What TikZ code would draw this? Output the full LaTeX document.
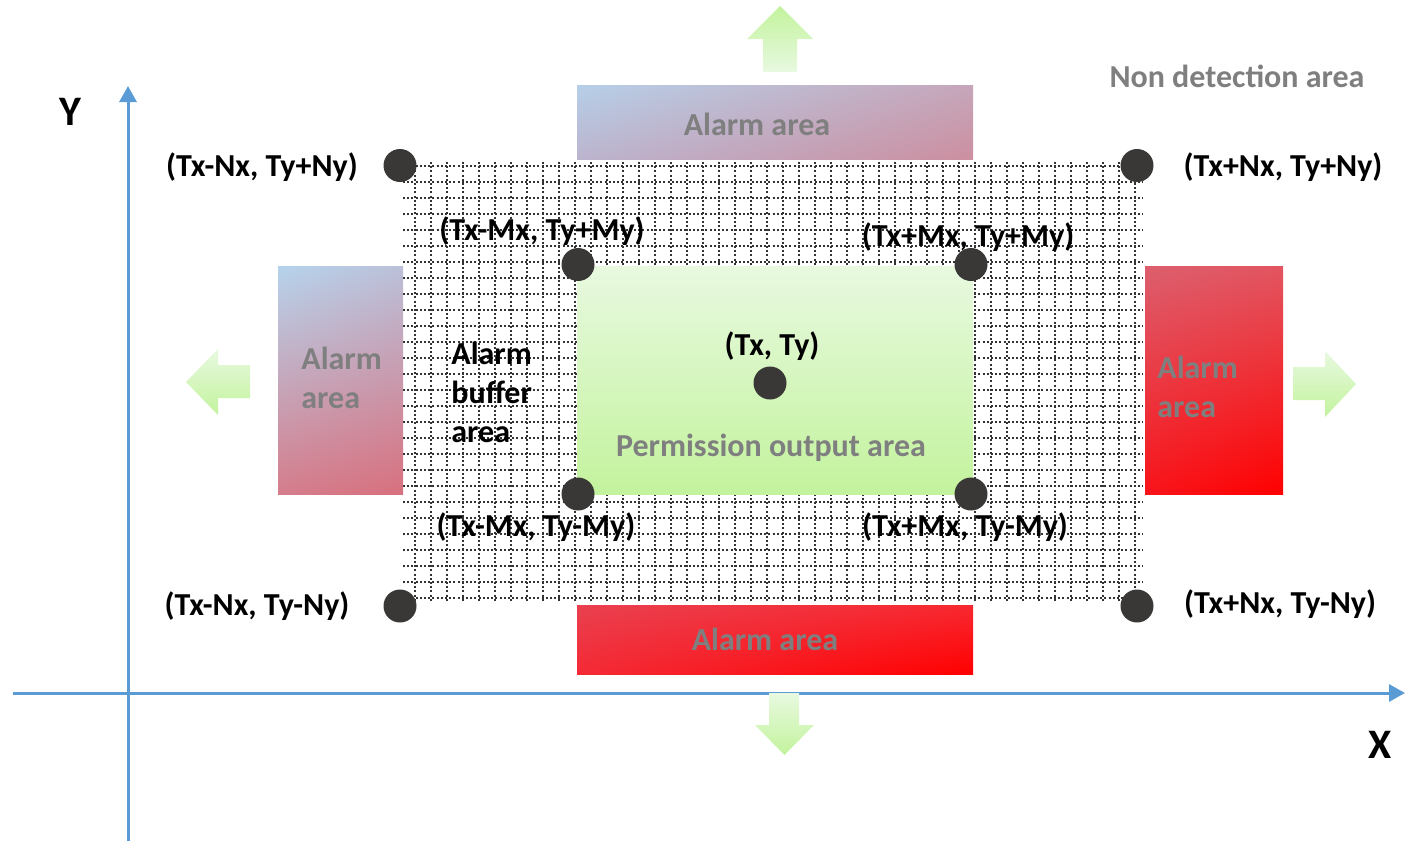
\documentclass[tikz,border=0pt]{standalone}
\usepackage{fontspec}
\setmainfont{Carlito}
\usetikzlibrary{arrows.meta,shadings}
\definecolor{axisblue}{HTML}{5B9BD5}
\definecolor{dotgray}{HTML}{3A3836}
\definecolor{gridgray}{HTML}{333333}
\definecolor{txtgray}{HTML}{7F7F7F}
\definecolor{glight}{HTML}{E8F9E0}
\definecolor{gdark}{HTML}{C3F39D}
\definecolor{tUL}{HTML}{B6CFE8}\definecolor{tUR}{HTML}{C6A6BA}\definecolor{tLL}{HTML}{BCB4CE}\definecolor{tLR}{HTML}{CC8FA0}
\definecolor{lUL}{HTML}{B6D3EC}\definecolor{lUR}{HTML}{BBC0D9}\definecolor{lLL}{HTML}{D47D8C}\definecolor{lLR}{HTML}{D8707E}
\definecolor{rUL}{HTML}{DC5F6E}\definecolor{rUR}{HTML}{E25560}\definecolor{rLL}{HTML}{F8141A}\definecolor{rLR}{HTML}{FF0000}
\definecolor{bUL}{HTML}{E94050}\definecolor{bUR}{HTML}{F82830}\definecolor{bLL}{HTML}{F42A35}\definecolor{bLR}{HTML}{FF0000}
\begin{document}
\begin{tikzpicture}[x=0.5pt,y=-0.5pt,
  font=\fontsize{16}{19.5}\selectfont\bfseries,
  lbl/.style={inner sep=0pt, text=black},
  graylbl/.style={inner sep=0pt, text=txtgray},
  dotnode/.style={circle, fill=dotgray, minimum size=16.5pt, inner sep=0pt},
  axis/.style={draw=axisblue, line width=1.5pt, -{Triangle[length=8pt,width=8.5pt]}},
  gridline/.style={draw=gridgray, line width=1pt, dash pattern=on 1pt off 1.1pt}
]
\useasboundingbox (0,0) rectangle (1406,841);

% alarm areas
\shade[upper left=tUL, upper right=tUR, lower left=tLL, lower right=tLR] (577,85) rectangle (973,159);
\shade[upper left=lUL, upper right=lUR, lower left=lLL, lower right=lLR] (278,266) rectangle (403,494);
\shade[upper left=rUL, upper right=rUR, lower left=rLL, lower right=rLR] (1145,266) rectangle (1283,494);
\shade[upper left=bUL, upper right=bUR, lower left=bLL, lower right=bLR] (577,605) rectangle (973,674);

% buffer grid
\foreach \k in {0,...,27} {
  \draw[gridline] (403,{165.7+16*\k}) -- (1143,{165.7+16*\k});
}
\foreach \k in {0,...,45} {
  \draw[gridline] ({415+16*\k},162) -- ({415+16*\k},602);
}

% permission output area
\shade[top color=glight, bottom color=gdark] (577,266) rectangle (973,494);

% axes
\coordinate (yb) at (128,841);
\coordinate (yt) at (128,86);
\coordinate (xl) at (13,693);
\coordinate (xr) at (1405,693);
\draw[axis] (yb) -- (yt);
\draw[axis] (xl) -- (xr);
\node[inner sep=0pt, font=\fontsize{21}{25}\selectfont\bfseries] (ylab) at (70,112) {Y};
\node[inner sep=0pt, font=\fontsize{21}{25}\selectfont\bfseries] (xlab) at (1380,745) {X};

% green block arrows
\shade[top color=gdark, bottom color=glight] (780,6) -- (813,39) -- (797,39) -- (797,72) -- (763,72) -- (763,39) -- (747,39) -- cycle;
\shade[top color=glight, bottom color=gdark] (186,382) -- (218,349) -- (218,365) -- (250,365) -- (250,398) -- (218,398) -- (218,415) -- cycle;
\shade[top color=glight, bottom color=gdark] (1293,367) -- (1325,367) -- (1325,351) -- (1356,384) -- (1325,417) -- (1325,400) -- (1293,400) -- cycle;
\shade[top color=glight, bottom color=gdark] (769,693) -- (799,693) -- (799,725) -- (814,725) -- (784.5,755) -- (755,725) -- (769,725) -- cycle;

% points
\node[dotnode] (nTL) at (400,165.5) {};
\node[dotnode] (nTR) at (1137,165.5) {};
\node[dotnode] (nBL) at (400,606) {};
\node[dotnode] (nBR) at (1137,606) {};
\node[dotnode] (mTL) at (578,264.5) {};
\node[dotnode] (mTR) at (971,264.5) {};
\node[dotnode] (mBL) at (578,494) {};
\node[dotnode] (mBR) at (971,494) {};
\node[dotnode] (ctr) at (770,383) {};

% labels
\node[lbl] (lnTL) at (262,167) {(Tx-Nx, Ty+Ny)};
\node[lbl] (lnTR) at (1283,167) {(Tx+Nx, Ty+Ny)};
\node[lbl] (lmTL) at (542,231) {(Tx-Mx, Ty+My)};
\node[lbl] (lmTR) at (968,237) {(Tx+Mx, Ty+My)};
\node[lbl] (lctr) at (772,346) {(Tx, Ty)};
\node[lbl] (lmBL) at (536,527) {(Tx-Mx, Ty-My)};
\node[lbl] (lmBR) at (965,527) {(Tx+Mx, Ty-My)};
\node[lbl] (lnBL) at (257,606) {(Tx-Nx, Ty-Ny)};
\node[lbl] (lnBR) at (1280,604) {(Tx+Nx, Ty-Ny)};
\node[lbl, anchor=west, align=left] (buf) at (451,392) {Alarm\\buffer\\area};

\node[graylbl] (perm) at (771,448) {Permission output area};
\node[graylbl] (nondet) at (1237,76) {Non detection area};
\node[graylbl] (atopl) at (757,124) {Alarm area};
\node[graylbl] (abotl) at (765,639) {Alarm area};
\node[graylbl, anchor=west, align=left] (aleftl) at (301,378) {Alarm\\area};
\node[graylbl, anchor=west, align=left] (arightl) at (1157,387) {Alarm\\area};
\end{tikzpicture}
\end{document}
